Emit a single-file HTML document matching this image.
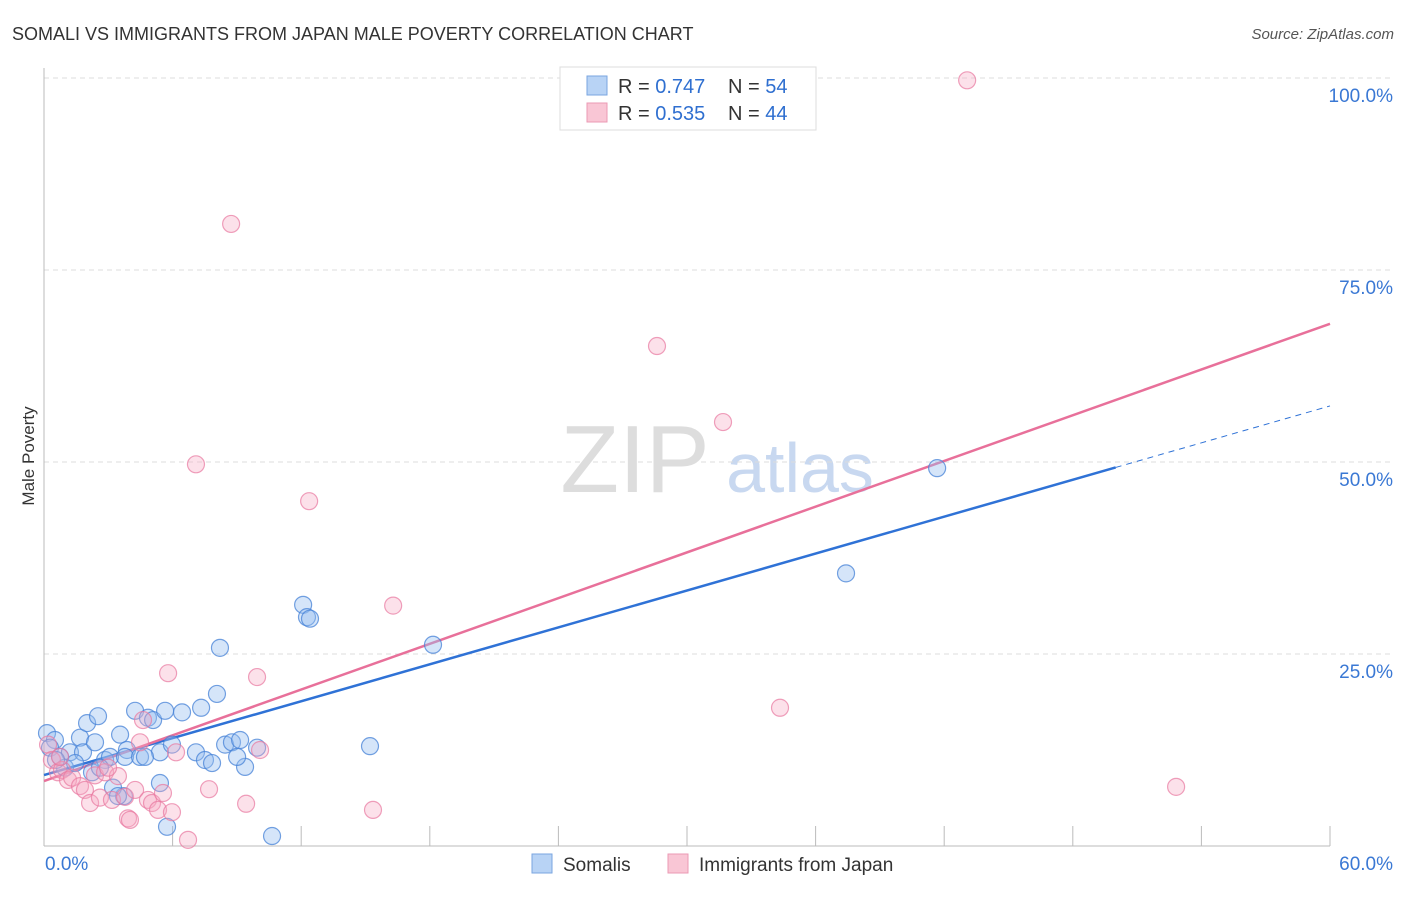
<!DOCTYPE html>
<html><head><meta charset="utf-8"><style>
body{margin:0;background:#fff;font-family:"Liberation Sans",sans-serif;}
svg text{font-family:"Liberation Sans",sans-serif;}
</style></head><body>
<svg width="1406" height="892" xmlns="http://www.w3.org/2000/svg">
<text x="12" y="40" font-size="18" fill="#333">SOMALI VS IMMIGRANTS FROM JAPAN MALE POVERTY CORRELATION CHART</text>
<text x="1394" y="39" font-size="15" fill="#555" font-style="italic" text-anchor="end">Source: ZipAtlas.com</text>
<text x="34" y="456" font-size="17" fill="#333" transform="rotate(-90 34 456)" text-anchor="middle">Male Poverty</text>
<text x="635" y="492" font-size="96" fill="#ddd" font-family="Liberation Serif" text-anchor="middle">ZIP</text>
<text x="800" y="492" font-size="70" fill="#c8d8f0" text-anchor="middle">atlas</text>
<g id="grid"></g>
<g id="axes"></g>
<g id="lines"></g>
<g id="pts"></g>
<g>
<rect x="560" y="67" width="256" height="63" fill="#fff" stroke="#ddd"/>
<rect x="587" y="76" width="20" height="19" fill="#b8d3f5" stroke="#7aa6e0"/>
<rect x="587" y="103" width="20" height="19" fill="#f9c6d5" stroke="#eb9ab4"/>
<text x="618" y="93" font-size="20" fill="#333">R = <tspan fill="#2f6fd0">0.747</tspan></text>
<text x="728" y="93" font-size="20" fill="#333">N = <tspan fill="#2f6fd0">54</tspan></text>
<text x="618" y="120" font-size="20" fill="#333">R = <tspan fill="#2f6fd0">0.535</tspan></text>
<text x="728" y="120" font-size="20" fill="#333">N = <tspan fill="#2f6fd0">44</tspan></text>
</g>
<g>
<rect x="532" y="854" width="20" height="19" fill="#b8d3f5" stroke="#7aa6e0"/>
<text x="563" y="871" font-size="19" fill="#333">Somalis</text>
<rect x="668" y="854" width="20" height="19" fill="#f9c6d5" stroke="#eb9ab4"/>
<text x="699" y="871" font-size="19" fill="#333">Immigrants from Japan</text>
</g>
</svg>
<script>
const xTicks=[0,60];
const yTicks=[25,50,75,100];
const blueX=[0.14,0.51,0.28,0.75,1.21,0.98,1.68,1.82,1.45,2.01,2.38,2.52,2.24,2.85,3.08,3.55,3.87,3.78,4.25,4.48,4.85,5.09,5.41,4.71,5.65,5.97,6.44,5.41,7.33,7.09,7.51,7.84,8.07,8.21,8.45,8.77,9.15,9.38,9.01,9.94,12.09,12.27,12.41,10.64,5.74,3.73,3.22,15.21,18.15,37.42,41.67,3.45,2.61,0.56];
const blueY=[14.7,13.8,12.8,11.6,12.2,10.2,14.1,12.2,10.8,16.0,13.5,16.9,9.6,11.2,11.6,14.5,12.5,11.6,17.6,11.6,16.7,16.4,12.2,11.6,17.6,13.2,17.4,8.2,18.0,12.2,11.2,10.8,19.8,25.8,13.2,13.5,13.8,10.3,11.6,12.8,31.4,29.8,29.6,1.3,2.5,6.5,7.6,13.0,26.2,35.5,49.2,6.5,10.2,11.2];
const pinkX=[0.19,0.37,0.65,0.84,1.12,1.31,1.68,1.91,2.15,2.38,2.61,2.85,3.17,3.45,3.78,3.92,4.01,4.25,4.48,4.85,5.04,5.32,5.55,5.79,5.97,6.16,6.72,7.09,7.70,8.73,9.43,9.94,10.08,12.37,15.35,16.29,28.60,31.68,34.34,43.07,52.82,4.62,2.99,0.75];
const pinkY=[13.2,11.2,9.6,9.9,8.6,8.9,7.8,7.3,5.6,9.2,6.3,9.6,6.0,9.1,6.4,3.6,3.4,7.3,13.5,6.0,5.6,4.7,6.9,22.5,4.4,12.2,0.8,49.7,7.4,81.0,5.5,22.0,12.5,44.9,4.7,31.3,65.1,55.2,18.0,99.7,7.7,16.4,10.2,11.6];
const blueLine=[9.24,57.3]; const blueSolidEnd=50;
const pinkLine=[8.46,68.0];
const NS='http://www.w3.org/2000/svg';
const sx=v=>44+v*1286/60, sy=v=>846-v*7.68;
function mk(t,a,p){const e=document.createElementNS(NS,t);for(const k in a)e.setAttribute(k,a[k]);p.appendChild(e);return e;}
const grid=document.getElementById('grid'),axes=document.getElementById('axes'),lines=document.getElementById('lines'),pts=document.getElementById('pts');
yTicks.forEach(v=>{
 const l=mk('line',{x1:44,x2:1394,y1:sy(v),y2:sy(v),stroke:'#ddd','stroke-dasharray':'5,4'},grid);
 
 
 const t=mk('text',{x:1393,y:sy(v)+24,'font-size':19,fill:'#3a78d4','text-anchor':'end'},grid);
 t.textContent=v.toFixed(1)+'%';
 
 
});
mk('line',{x1:44,x2:44,y1:68,y2:846,stroke:'#bbb'},axes);
mk('line',{x1:44,x2:1330,y1:846,y2:846,stroke:'#bbb'},axes);
for(let i=1;i<=10;i++){const x=sx(i*6);mk('line',{x1:x,x2:x,y1:826,y2:846,stroke:'#bbb'},axes);}
xTicks.forEach((v,i)=>{
 const t=mk('text',{x:i?1393:45,y:870,'font-size':19,fill:'#3a78d4','text-anchor':i?'end':'start'},axes);
 t.textContent=v.toFixed(1)+'%';
 
 
});
function dot(x,y,f,s,n){const c=mk('circle',{cx:sx(x),cy:sy(y),r:8.5,fill:f,stroke:s,'stroke-width':1.2},pts);
 
 }
blueX.forEach((x,i)=>dot(x,blueY[i],'rgba(150,190,240,0.4)','rgba(70,130,215,0.75)','point-somali'));
pinkX.forEach((x,i)=>dot(x,pinkY[i],'rgba(245,170,195,0.35)','rgba(232,120,160,0.7)','point-japan'));
const by=x=>blueLine[0]+(blueLine[1]-blueLine[0])*x/60;
const py=x=>pinkLine[0]+(pinkLine[1]-pinkLine[0])*x/60;
let e=mk('line',{x1:sx(0),y1:sy(by(0)),x2:sx(blueSolidEnd),y2:sy(by(blueSolidEnd)),stroke:'#2f72d6','stroke-width':2.5},lines);


e=mk('line',{x1:sx(blueSolidEnd),y1:sy(by(blueSolidEnd)),x2:sx(60),y2:sy(by(60)),stroke:'#2f72d6','stroke-width':1,'stroke-dasharray':'6,5'},lines);


e=mk('line',{x1:sx(0),y1:sy(py(0)),x2:sx(60),y2:sy(py(60)),stroke:'#e8709a','stroke-width':2.5},lines);


</script>
</body></html>
